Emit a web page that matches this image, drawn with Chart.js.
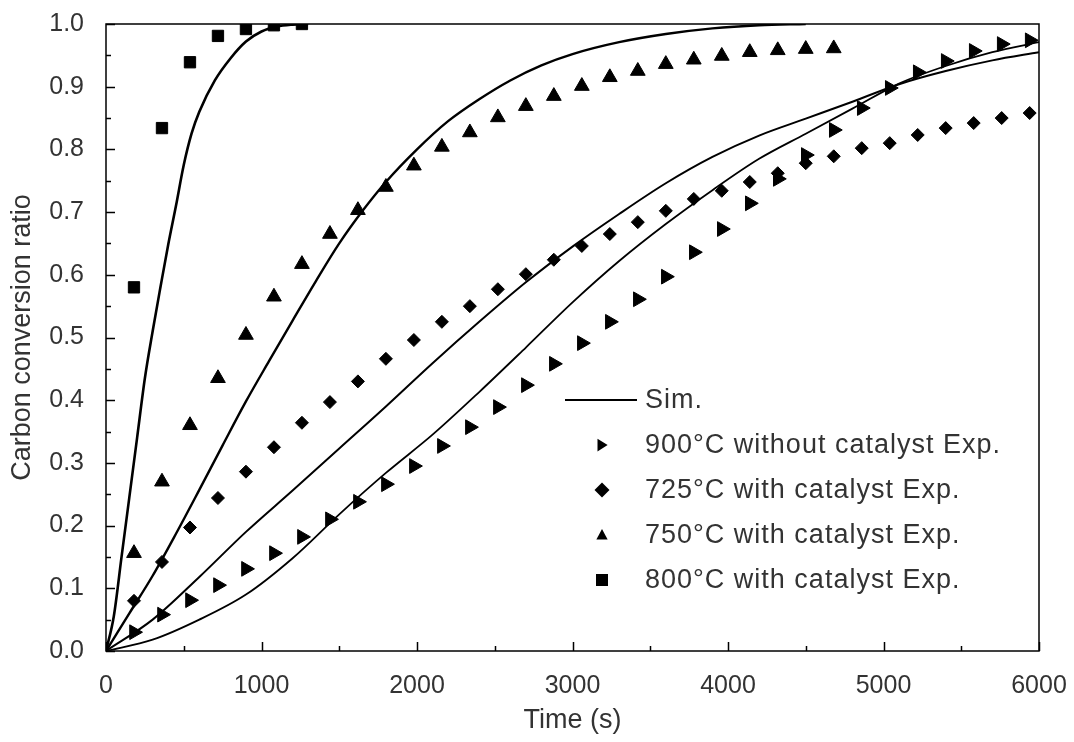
<!DOCTYPE html>
<html lang="en">
<head>
<meta charset="UTF-8">
<title>Carbon conversion ratio vs time</title>
<script src="https://cdn.jsdelivr.net/npm/chart.js"></script>
<style>
  html, body { margin: 0; padding: 0; background: #fff; }
</style>
</head>
<body>
<canvas id="conv" width="1074" height="742"></canvas>
<script>
// sampling times of the experiments (s)
var expTime = [180, 360, 540, 720, 900, 1080, 1260, 1440, 1620, 1800, 1980,
  2160, 2340, 2520, 2700, 2880, 3060, 3240, 3420, 3600, 3780, 3960, 4140,
  4320, 4500, 4680, 4860, 5040, 5220, 5400, 5580, 5760, 5940];

// experimental conversion ratios
var exp900 = [0.030, 0.058, 0.081, 0.105, 0.131, 0.156, 0.182, 0.210, 0.238, 0.266, 0.295,
  0.327, 0.357, 0.389, 0.424, 0.458, 0.491, 0.525, 0.561, 0.597, 0.636, 0.673, 0.714,
  0.753, 0.791, 0.831, 0.866, 0.898, 0.923, 0.941, 0.957, 0.968, 0.974];
var exp725 = [0.080, 0.142, 0.197, 0.244, 0.286, 0.325, 0.364, 0.397, 0.430, 0.466, 0.496,
  0.525, 0.550, 0.577, 0.601, 0.624, 0.646, 0.665, 0.684, 0.702, 0.721, 0.734, 0.748,
  0.762, 0.778, 0.789, 0.802, 0.810, 0.823, 0.834, 0.842, 0.850, 0.858];
var exp750 = [0.156, 0.270, 0.360, 0.435, 0.504, 0.565, 0.617, 0.665, 0.703, 0.740, 0.774,
  0.804, 0.827, 0.851, 0.869, 0.885, 0.901, 0.915, 0.925, 0.936, 0.943, 0.949, 0.955,
  0.958, 0.960, 0.961];
var exp800 = [0.580, 0.834, 0.939, 0.981, 0.992, 0.998, 1.000];

// simulated curves
var simT800 = [0, 50, 100, 150, 200, 250, 300, 350, 400, 450, 500, 550, 600, 700, 800, 900, 1000, 1100, 1200, 1300];
var simY800 = [0, 0.055, 0.150, 0.245, 0.340, 0.435, 0.510, 0.580, 0.648, 0.710, 0.775, 0.825, 0.860, 0.910, 0.945, 0.972, 0.988, 0.996, 0.999, 1.000];
var simT750 = [0, 150, 300, 450, 600, 750, 900, 1050, 1200, 1350, 1500, 1650, 1800, 2000, 2200, 2400, 2600, 2800, 3000, 3300, 3600, 3900, 4200, 4500];
var simY750 = [0, 0.060, 0.120, 0.187, 0.257, 0.328, 0.398, 0.463, 0.527, 0.590, 0.650, 0.702, 0.748, 0.800, 0.845, 0.880, 0.910, 0.934, 0.952, 0.971, 0.984, 0.993, 0.998, 1.000];
var simT725 = [0, 300, 600, 900, 1200, 1500, 1800, 2100, 2400, 2700, 3000, 3300, 3600, 3900, 4200, 4500, 4800, 5100, 5400, 5700, 6000];
var simY725 = [0, 0.050, 0.118, 0.190, 0.256, 0.323, 0.390, 0.459, 0.525, 0.588, 0.645, 0.697, 0.746, 0.788, 0.822, 0.849, 0.876, 0.904, 0.925, 0.942, 0.955];
var simT900 = [0, 300, 600, 900, 1200, 1500, 1800, 2100, 2400, 2700, 3000, 3300, 3600, 3900, 4200, 4500, 4800, 5100, 5400, 5700, 6000];
var simY900 = [0, 0.018, 0.050, 0.090, 0.148, 0.218, 0.284, 0.345, 0.413, 0.484, 0.556, 0.622, 0.681, 0.735, 0.785, 0.825, 0.865, 0.905, 0.933, 0.955, 0.971];

var legendLabels = ['Sim.', '900°C without catalyst Exp.', '725°C with catalyst Exp.',
  '750°C with catalyst Exp.', '800°C with catalyst Exp.'];

function pairs(xs, ys) {
  return ys.map(function (y, i) { return { x: xs[i], y: y }; });
}

function simSet(xs, ys, w) {
  return {
    data: pairs(xs, ys), showLine: true, borderColor: '#000', borderWidth: w,
    pointRadius: 0, cubicInterpolationMode: 'monotone', fill: false
  };
}

function expSet(ys, style, r, rot) {
  return {
    data: pairs(expTime, ys), showLine: false, pointStyle: style, pointRadius: r,
    pointRotation: rot || 0, pointBackgroundColor: '#000', pointBorderColor: '#000',
    pointBorderWidth: 1, clip: 0
  };
}

// little marker shapes for the legend
function marker(ctx, kind, x, y, s) {
  ctx.beginPath();
  if (kind === 'right') {
    ctx.moveTo(x - s * 0.6, y - s * 0.85); ctx.lineTo(x + s * 0.75, y); ctx.lineTo(x - s * 0.6, y + s * 0.85);
  } else if (kind === 'diamond') {
    ctx.moveTo(x, y - s); ctx.lineTo(x + s, y); ctx.lineTo(x, y + s); ctx.lineTo(x - s, y);
  } else if (kind === 'up') {
    ctx.moveTo(x, y - s * 0.8); ctx.lineTo(x + s * 0.75, y + s * 0.6); ctx.lineTo(x - s * 0.75, y + s * 0.6);
  } else {
    ctx.rect(x - s * 0.8, y - s * 0.8, s * 1.6, s * 1.6);
  }
  ctx.closePath();
  ctx.fill();
}

var legendBox = {
  id: 'legendBox',
  afterDraw: function (chart) {
    var ctx = chart.ctx;
    var kinds = ['line', 'right', 'diamond', 'up', 'square'];
    ctx.save();
    ctx.font = '27px "Liberation Sans", Arial, sans-serif';
    ctx.letterSpacing = '1px';
    ctx.textBaseline = 'middle';
    for (var i = 0; i < legendLabels.length; i++) {
      var y = 400 + 45 * i;
      ctx.fillStyle = '#000';
      ctx.strokeStyle = '#000';
      if (kinds[i] === 'line') {
        ctx.lineWidth = 2.2;
        ctx.beginPath(); ctx.moveTo(565, y); ctx.lineTo(637, y); ctx.stroke();
      } else {
        marker(ctx, kinds[i], 602, y, 7.5);
      }
      ctx.fillStyle = '#333';
      ctx.fillText(legendLabels[i], 645, y + 1);
    }
    ctx.restore();
  }
};

// box round the plot and inward ticks on the two axes
var frameTicks = {
  id: 'frameTicks',
  afterDatasetsDraw: function (chart) {
    var ctx = chart.ctx, a = chart.chartArea;
    var xs = chart.scales.x, ys = chart.scales.y;
    ctx.save();
    ctx.strokeStyle = '#000';
    ctx.lineWidth = 1.5;
    ctx.strokeRect(a.left, a.top, a.right - a.left, a.bottom - a.top);
    ctx.beginPath();
    for (var t = 0; t <= 6000; t += 500) {
      var px = Math.round(xs.getPixelForValue(t)) + 0.5;
      var len = (t % 1000 === 0) ? 9 : 5;
      ctx.moveTo(px, a.bottom); ctx.lineTo(px, a.bottom - len);
    }
    for (var k = 0; k <= 20; k++) {
      var py = Math.round(ys.getPixelForValue(k * 0.05)) + 0.5;
      var len2 = (k % 2 === 0) ? 9 : 5;
      ctx.moveTo(a.left, py); ctx.lineTo(a.left + len2, py);
    }
    ctx.stroke();
    ctx.restore();
  }
};

var tickFont = { family: '"Liberation Sans", Arial, sans-serif', size: 25 };
var titleFont = { family: '"Liberation Sans", Arial, sans-serif', size: 27 };

new Chart(document.getElementById('conv').getContext('2d'), {
  type: 'scatter',
  data: {
    datasets: [
      simSet(simT800, simY800, 2.6),
      simSet(simT750, simY750, 2.4),
      simSet(simT725, simY725, 2.0),
      simSet(simT900, simY900, 1.8),
      expSet(exp900, 'triangle', 8.5, 90),
      expSet(exp725, 'rectRot', 6.5),
      expSet(exp750, 'triangle', 8.5),
      expSet(exp800, 'rect', 8)
    ]
  },
  options: {
    responsive: false,
    animation: false,
    devicePixelRatio: 1,
    layout: { padding: { left: 0, top: 24, right: 35, bottom: 0 } },
    plugins: { legend: { display: false }, tooltip: { enabled: false } },
    scales: {
      x: {
        type: 'linear', min: 0, max: 6000,
        afterFit: function (s) { s.height = 91; s.paddingLeft = 0; s.paddingRight = 0; },
        grid: { display: false }, border: { display: false },
        ticks: { stepSize: 1000, color: '#333', font: tickFont, padding: 12, maxRotation: 0,
          callback: function (v) { return String(v); } },
        title: { display: true, text: 'Time (s)', color: '#333', font: titleFont,
          padding: { top: 0, bottom: 5 } }
      },
      y: {
        type: 'linear', min: 0, max: 1,
        afterFit: function (s) { s.width = 106; s.paddingTop = 0; s.paddingBottom = 0; },
        grid: { display: false }, border: { display: false },
        ticks: { stepSize: 0.1, color: '#333', font: tickFont, padding: 14,
          callback: function (v) { return v.toFixed(1); } },
        title: { display: true, text: 'Carbon conversion ratio', color: '#333', font: titleFont,
          padding: { top: 6, bottom: 0 } }
      }
    }
  },
  plugins: [frameTicks, legendBox]
});
</script>
</body>
</html>
